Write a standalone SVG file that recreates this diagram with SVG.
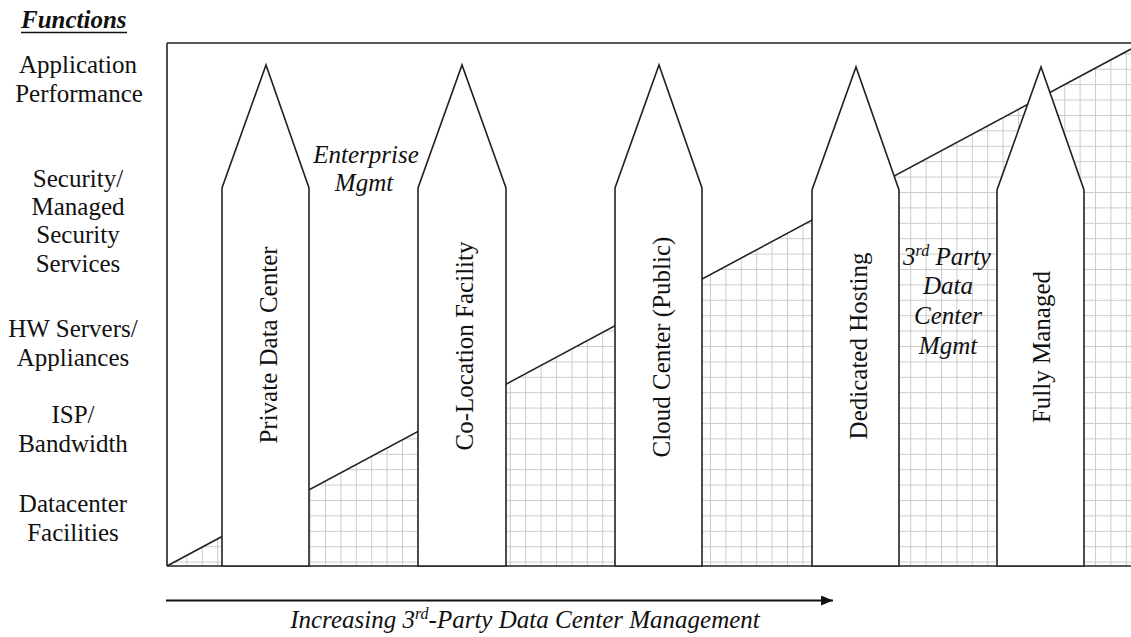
<svg xmlns="http://www.w3.org/2000/svg" width="1131" height="637" viewBox="0 0 1131 637">
<defs>
<style>
text{font-family:'Liberation Serif','Times New Roman',Times,'DejaVu Serif',serif;font-size:25px;fill:#111;}
.lbl{text-anchor:middle;}
.it{font-style:italic;}
.ar{fill:#fff;stroke:#222;stroke-width:1.6;stroke-linejoin:miter;}
.ln{stroke:#222;stroke-width:1.6;fill:none;}
</style>
<pattern id="grid" patternUnits="userSpaceOnUse" x="325" y="500" width="15.4" height="15.4">
<rect width="15.4" height="15.4" fill="#fff"/>
<path d="M0.5 0V15.4M0 0.5H15.4" stroke="#cbcbcb" stroke-width="1"/>
</pattern>
<marker id="ah" markerWidth="12" markerHeight="10" refX="12" refY="5" orient="auto" markerUnits="userSpaceOnUse">
<path d="M0 0L12 5L0 10Z" fill="#111"/>
</marker>
</defs>
<rect width="1131" height="637" fill="#fff"/>

<g id="title">
<text x="21" y="28" font-weight="bold" font-style="italic" font-size="24">Functions</text>
<line x1="21" y1="32.5" x2="127" y2="32.5" stroke="#111" stroke-width="1.5"/>
</g>

<g id="function-labels">
<text class="lbl" x="78" y="73">Application</text>
<text class="lbl" x="79" y="102">Performance</text>
<text class="lbl" x="78" y="187">Security/</text>
<text class="lbl" x="78" y="215">Managed</text>
<text class="lbl" x="78" y="243">Security</text>
<text class="lbl" x="78" y="272">Services</text>
<text class="lbl" x="73" y="337">HW Servers/</text>
<text class="lbl" x="73" y="366">Appliances</text>
<text class="lbl" x="73" y="423">ISP/</text>
<text class="lbl" x="73" y="452">Bandwidth</text>
<text class="lbl" x="73" y="512">Datacenter</text>
<text class="lbl" x="73" y="541">Facilities</text>
</g>

<g id="frame">
<polygon points="167,566 1131,49 1131,566" fill="url(#grid)"/>
<line class="ln" x1="167" y1="43" x2="1131" y2="43"/>
<line class="ln" x1="167" y1="43" x2="167" y2="566"/>
<line class="ln" x1="167" y1="566" x2="1131" y2="566"/>
<line class="ln" x1="167" y1="566" x2="1131" y2="49"/>
</g>

<g id="private-data-center">
<polygon class="ar" points="222,566 222,188 266,65 309,188 309,566"/>
<text class="lbl" transform="translate(277,345) rotate(-90)">Private Data Center</text>
</g>
<g id="co-location-facility">
<polygon class="ar" points="418,566 418,188 462,65 506,188 506,566"/>
<text class="lbl" transform="translate(473,346) rotate(-90)">Co-Location Facility</text>
</g>
<g id="cloud-center">
<polygon class="ar" points="615,566 615,188 659,65 702,188 702,566"/>
<text class="lbl" transform="translate(670,347) rotate(-90)">Cloud Center (Public)</text>
</g>
<g id="dedicated-hosting">
<polygon class="ar" points="812,566 812,190 856,67 899,190 899,566"/>
<text class="lbl" transform="translate(867,346) rotate(-90)">Dedicated Hosting</text>
</g>
<g id="fully-managed">
<polygon class="ar" points="997,566 997,190 1041,67 1084,190 1084,566"/>
<text class="lbl" transform="translate(1050,347) rotate(-90)">Fully Managed</text>
</g>

<g id="enterprise-mgmt">
<text class="lbl it" x="366" y="163">Enterprise</text>
<text class="lbl it" x="364" y="191">Mgmt</text>
</g>

<g id="third-party-mgmt">
<text class="lbl it" x="947" y="265">3<tspan font-size="16" dy="-9">rd</tspan><tspan dy="9"> Party</tspan></text>
<text class="lbl it" x="948" y="294">Data</text>
<text class="lbl it" x="948" y="324">Center</text>
<text class="lbl it" x="948" y="354">Mgmt</text>
</g>

<g id="connectors">
<line x1="166" y1="600.5" x2="833" y2="600.5" stroke="#111" stroke-width="2" marker-end="url(#ah)"/>
</g>
<g id="axis-label">
<text class="it" x="525" y="628" text-anchor="middle" font-size="25.5">Increasing 3<tspan font-size="16" dy="-9">rd</tspan><tspan dy="9">-Party Data Center Management</tspan></text>
</g>
</svg>
